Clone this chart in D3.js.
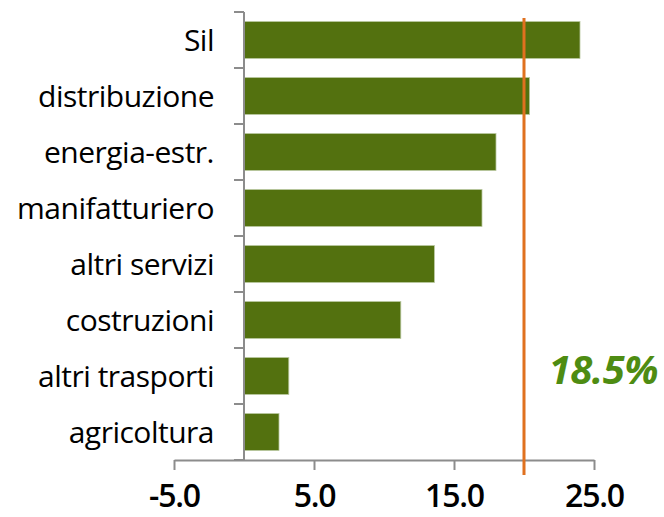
<!DOCTYPE html>
<html>
<head>
<meta charset="utf-8">
<script src="https://cdn.jsdelivr.net/npm/d3@7"></script>
<style>
  body { margin: 0; background: #fff; }
  svg text { font-family: "Open Sans", "Noto Sans", sans-serif; }
</style>
</head>
<body>
<div id="graphic"></div>
<script>
const categories = ["Sil", "distribuzione", "energia-estr.", "manifatturiero", "altri servizi", "costruzioni", "altri trasporti", "agricoltura"];
const values = [24.0, 20.4, 18.0, 17.0, 13.6, 11.2, 3.2, 2.5];
const tickValues = [-5, 5, 15, 25];
const refValue = 20;
const refLabel = "18.5%";

const width = 664, height = 517;

const svg = d3.select("#graphic")
    .append("svg")
    .attr("width", width)
    .attr("height", height);

const x = d3.scaleLinear()
    .domain([-5, 25])
    .range([174, 594]);

const y = d3.scaleBand()
    .domain(categories)
    .range([12, 460])
    .paddingInner(0.34)
    .paddingOuter(0.17);

const axisColor = "#8c8c8c";

// bars
svg.selectAll("rect.bar")
    .data(categories)
    .join("rect")
    .attr("class", "bar")
    .attr("x", x(0))
    .attr("y", d => y(d))
    .attr("width", (d, i) => x(values[i]) - x(0))
    .attr("height", y.bandwidth())
    .attr("fill", "#53710f")
    .attr("stroke", "#b9c7a0")
    .attr("stroke-width", 0.8);

// X axis
const fmt = d3.format(".1f");
const xAxis = svg.append("g")
    .attr("transform", `translate(0, 460)`)
    .call(d3.axisBottom(x).tickValues(tickValues).tickFormat(d => fmt(d).replace("−", "-")).tickSize(10).tickSizeOuter(0));
xAxis.select(".domain").attr("stroke", axisColor).attr("stroke-width", 2);
xAxis.selectAll(".tick line").attr("stroke", axisColor).attr("stroke-width", 2);
xAxis.selectAll(".tick text")
    .attr("y", 47)
    .attr("dy", null)
    .attr("fill", "#000")
    .style("font-size", "32px")
    .style("letter-spacing", "-1.2px")
    .style("font-weight", 600);

// Y axis (ticks at band boundaries)
const boundaries = categories.map(d => y(d) - y.step() * y.paddingInner() / 2);
boundaries.push(460);
const yAxis = svg.append("g");
yAxis.append("line")
    .attr("x1", x(0)).attr("x2", x(0))
    .attr("y1", 12).attr("y2", 460)
    .attr("stroke", axisColor).attr("stroke-width", 2);
yAxis.selectAll("line.tick")
    .data(boundaries)
    .join("line")
    .attr("class", "tick")
    .attr("x1", x(0) - 10).attr("x2", x(0))
    .attr("y1", d => d).attr("y2", d => d)
    .attr("stroke", axisColor).attr("stroke-width", 2);

// category labels
svg.selectAll("text.cat")
    .data(categories)
    .join("text")
    .attr("class", "cat")
    .attr("x", 214)
    .attr("y", d => y(d) + y.bandwidth() / 2)
    .attr("dy", "0.36em")
    .attr("text-anchor", "end")
    .attr("fill", "#000")
    .style("font-size", "30px")
    .style("letter-spacing", "-0.5px")
    .text(d => d);

// reference line
svg.append("line")
    .attr("x1", x(refValue)).attr("x2", x(refValue))
    .attr("y1", 18).attr("y2", 475)
    .attr("stroke", "#e0711f")
    .attr("stroke-width", 3);

svg.append("text")
    .attr("x", 658)
    .attr("y", 384)
    .attr("text-anchor", "end")
    .attr("fill", "#4e8c12")
    .style("font-size", "40px")
    .style("font-weight", 700)
    .style("font-style", "italic")
    .style("letter-spacing", "-0.5px")
    .text(refLabel);
</script>
</body>
</html>
